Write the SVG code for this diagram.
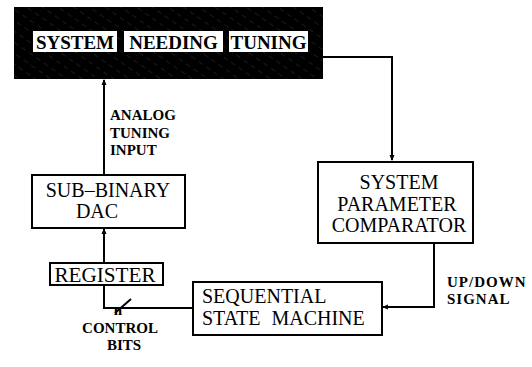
<svg xmlns="http://www.w3.org/2000/svg" width="532" height="367" viewBox="0 0 532 367">
<defs>
<pattern id="hatch" width="9" height="9" patternUnits="userSpaceOnUse" patternTransform="rotate(-55)">
<rect width="9" height="9" fill="#000"/>
<line x1="0" y1="0" x2="0" y2="5" stroke="#555" stroke-width="0.6"/>
</pattern>
<marker id="ah" markerWidth="6" markerHeight="6" refX="5" refY="3" orient="auto" markerUnits="userSpaceOnUse">
<path d="M0,0.5 L6,3 L0,5.5 Z" fill="#000"/>
</marker>
</defs>
<style>
.box{fill:#fff;stroke:#000;stroke-width:2}
.lbl{font-family:'Liberation Serif','DejaVu Serif',serif;font-size:20px;fill:#000}
.top{font-family:'Liberation Serif','DejaVu Serif',serif;font-size:19px;font-weight:bold;fill:#000}
.cl{font-family:'Liberation Serif','DejaVu Serif',serif;font-size:15px;font-weight:bold;fill:#000}
.wire{fill:none;stroke:#000;stroke-width:2}
</style>
<rect width="532" height="367" fill="#fff"/>
<g id="system">
<rect x="14" y="7" width="309" height="72" fill="url(#hatch)"/>
<rect x="33" y="31" width="84" height="21" fill="#fff"/>
<rect x="124" y="31" width="99" height="21" fill="#fff"/>
<rect x="229" y="31" width="79" height="21" fill="#fff"/>
<text class="top" x="75" y="49" text-anchor="middle">SYSTEM</text>
<text class="top" x="173.5" y="49" text-anchor="middle">NEEDING</text>
<text class="top" x="268.5" y="49" text-anchor="middle">TUNING</text>
</g>
<g id="comparator">
<rect class="box" x="318" y="162" width="155" height="81"/>
<text class="lbl" x="399" y="189" text-anchor="middle">SYSTEM</text>
<text class="lbl" x="397" y="211" text-anchor="middle">PARAMETER</text>
<text class="lbl" x="399" y="232" text-anchor="middle">COMPARATOR</text>
</g>
<g id="dac">
<rect class="box" x="32" y="175" width="153" height="53"/>
<text class="lbl" x="108" y="197" text-anchor="middle">SUB–BINARY</text>
<text class="lbl" x="97" y="218" text-anchor="middle">DAC</text>
</g>
<g id="register">
<rect class="box" x="50" y="263" width="113" height="22"/>
<text class="lbl" x="105" y="282" text-anchor="middle" textLength="101" lengthAdjust="spacingAndGlyphs">REGISTER</text>
</g>
<g id="ssm">
<rect class="box" x="193" y="282" width="189" height="53"/>
<text class="lbl" x="202" y="303">SEQUENTIAL</text>
<text class="lbl" x="202" y="325" word-spacing="6">STATE MACHINE</text>
</g>
<g id="connectors">
<path class="wire" d="M323,57 H392 V160" marker-end="url(#ah)"/>
<path class="wire" d="M434,243 V307 H383" marker-end="url(#ah)"/>
<path class="wire" d="M104,175 V80" marker-end="url(#ah)"/>
<path class="wire" d="M104,263 V229" marker-end="url(#ah)"/>
<path class="wire" d="M104,285 V308 H193"/>
<line x1="115" y1="313" x2="131" y2="299" stroke="#000" stroke-width="2"/>
<text class="cl" x="110" y="120">ANALOG</text>
<text class="cl" x="110" y="137.5">TUNING</text>
<text class="cl" x="110" y="155">INPUT</text>
<text class="cl" x="447" y="287" letter-spacing="1">UP/DOWN</text>
<text class="cl" x="447" y="304" letter-spacing="1">SIGNAL</text>
<text class="cl" x="118" y="315" text-anchor="middle">n</text>
<text class="cl" x="120" y="332.5" text-anchor="middle">CONTROL</text>
<text class="cl" x="124" y="350" text-anchor="middle">BITS</text>
</g>
</svg>
